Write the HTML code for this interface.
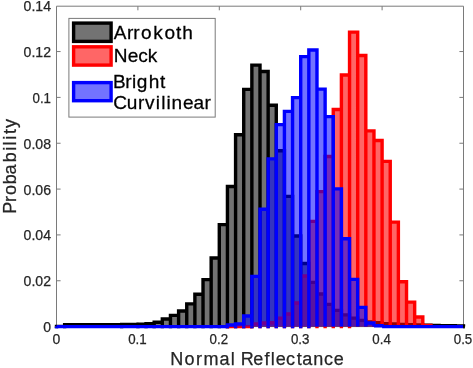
<!DOCTYPE html>
<html><head><meta charset="utf-8"><style>
html,body{margin:0;padding:0;background:#fff;}
body{width:473px;height:368px;overflow:hidden;}
svg{display:block;will-change:transform;font-family:"Liberation Sans",sans-serif;}
text{stroke-width:0.25px;}
.ls{letter-spacing:0.5px;}

</style></head><body>
<svg width="473" height="368" viewBox="0 0 473 368">
<rect width="473" height="368" fill="#fff"/>
<rect x="56.50" y="6.20" width="407.00" height="320.40" fill="#fff" stroke="none"/>
<path d="M56.50,6.20H463.50V326.60H56.50Z" fill="none" stroke="#7a7a7a" stroke-width="1"/>
<path d="M137.90,326.60v-4.1M137.90,6.20v4.1M219.30,326.60v-4.1M219.30,6.20v4.1M300.70,326.60v-4.1M300.70,6.20v4.1M382.10,326.60v-4.1M382.10,6.20v4.1M56.50,280.76h4.1M463.50,280.76h-4.1M56.50,234.92h4.1M463.50,234.92h-4.1M56.50,189.08h4.1M463.50,189.08h-4.1M56.50,143.24h4.1M463.50,143.24h-4.1M56.50,97.40h4.1M463.50,97.40h-4.1M56.50,51.56h4.1M463.50,51.56h-4.1" fill="none" stroke="#7a7a7a" stroke-width="1"/>
<path d="M56.50,326.60V326.37H64.64V326.60ZM64.64,326.60V324.77H72.78V326.60ZM72.78,326.60V324.77H80.92V326.60ZM80.92,326.60V324.77H89.06V326.60ZM89.06,326.60V324.77H97.20V326.60ZM97.20,326.60V324.77H105.34V326.60ZM105.34,326.60V324.77H113.48V326.60ZM113.48,326.60V324.77H121.62V326.60ZM121.62,326.60V324.54H129.76V326.60ZM129.76,326.60V324.54H137.90V326.60ZM137.90,326.60V324.08H146.04V326.60ZM146.04,326.60V323.62H154.18V326.60ZM154.18,326.60V322.25H162.32V326.60ZM162.32,326.60V319.04H170.46V326.60ZM170.46,326.60V315.37H178.60V326.60ZM178.60,326.60V311.01H186.74V326.60ZM186.74,326.60V303.91H194.88V326.60ZM194.88,326.60V294.28H203.02V326.60ZM203.02,326.60V279.61H211.16V326.60ZM211.16,326.60V258.07H219.30V326.60ZM219.30,326.60V224.61H227.44V326.60ZM227.44,326.60V186.56H235.58V326.60ZM235.58,326.60V134.76H243.72V326.60ZM243.72,326.60V89.38H251.86V326.60ZM251.86,326.60V65.08H260.00V326.60ZM260.00,326.60V71.50H268.14V326.60ZM268.14,326.60V105.19H276.28V326.60ZM276.28,326.60V150.80H284.42V326.60ZM284.42,326.60V196.41H292.56V326.60ZM292.56,326.60V236.07H300.70V326.60ZM300.70,326.60V263.57H308.84V326.60ZM308.84,326.60V282.36H316.98V326.60ZM316.98,326.60V294.05H325.12V326.60ZM325.12,326.60V304.37H333.26V326.60ZM333.26,326.60V310.33H341.40V326.60ZM341.40,326.60V314.91H349.54V326.60ZM349.54,326.60V318.12H357.68V326.60ZM357.68,326.60V320.41H365.82V326.60ZM365.82,326.60V322.02H373.96V326.60ZM373.96,326.60V322.70H382.10V326.60ZM382.10,326.60V323.62H390.24V326.60ZM390.24,326.60V323.85H398.38V326.60ZM398.38,326.60V324.54H406.52V326.60ZM406.52,326.60V324.77H414.66V326.60ZM414.66,326.60V325.00H422.80V326.60ZM422.80,326.60V325.22H430.94V326.60ZM430.94,326.60V325.45H439.08V326.60ZM439.08,326.60V325.68H447.22V326.60ZM447.22,326.60V325.68H455.36V326.60ZM455.36,326.60V325.91H463.50V326.60Z" fill="#000" fill-opacity="0.55" stroke="none"/>
<path d="M56.50,326.60V326.37H64.64V326.60M64.64,326.60V324.77H72.78V326.60M72.78,326.60V324.77H80.92V326.60M80.92,326.60V324.77H89.06V326.60M89.06,326.60V324.77H97.20V326.60M97.20,326.60V324.77H105.34V326.60M105.34,326.60V324.77H113.48V326.60M113.48,326.60V324.77H121.62V326.60M121.62,326.60V324.54H129.76V326.60M129.76,326.60V324.54H137.90V326.60M137.90,326.60V324.08H146.04V326.60M146.04,326.60V323.62H154.18V326.60M154.18,326.60V322.25H162.32V326.60M162.32,326.60V319.04H170.46V326.60M170.46,326.60V315.37H178.60V326.60M178.60,326.60V311.01H186.74V326.60M186.74,326.60V303.91H194.88V326.60M194.88,326.60V294.28H203.02V326.60M203.02,326.60V279.61H211.16V326.60M211.16,326.60V258.07H219.30V326.60M219.30,326.60V224.61H227.44V326.60M227.44,326.60V186.56H235.58V326.60M235.58,326.60V134.76H243.72V326.60M243.72,326.60V89.38H251.86V326.60M251.86,326.60V65.08H260.00V326.60M260.00,326.60V71.50H268.14V326.60M268.14,326.60V105.19H276.28V326.60M276.28,326.60V150.80H284.42V326.60M284.42,326.60V196.41H292.56V326.60M292.56,326.60V236.07H300.70V326.60M300.70,326.60V263.57H308.84V326.60M308.84,326.60V282.36H316.98V326.60M316.98,326.60V294.05H325.12V326.60M325.12,326.60V304.37H333.26V326.60M333.26,326.60V310.33H341.40V326.60M341.40,326.60V314.91H349.54V326.60M349.54,326.60V318.12H357.68V326.60M357.68,326.60V320.41H365.82V326.60M365.82,326.60V322.02H373.96V326.60M373.96,326.60V322.70H382.10V326.60M382.10,326.60V323.62H390.24V326.60M390.24,326.60V323.85H398.38V326.60M398.38,326.60V324.54H406.52V326.60M406.52,326.60V324.77H414.66V326.60M414.66,326.60V325.00H422.80V326.60M422.80,326.60V325.22H430.94V326.60M430.94,326.60V325.45H439.08V326.60M439.08,326.60V325.68H447.22V326.60M447.22,326.60V325.68H455.36V326.60M455.36,326.60V325.91H463.50V326.60" fill="none" stroke="#000" stroke-width="3.4" stroke-linejoin="miter" stroke-linecap="butt"/>
<path d="M54.80,326.60h3.4v1.7h-3.4ZM62.94,326.60h3.4v1.7h-3.4ZM119.92,326.60h3.4v1.7h-3.4ZM136.20,326.60h3.4v1.7h-3.4ZM144.34,326.60h3.4v1.7h-3.4ZM152.48,326.60h3.4v1.7h-3.4ZM160.62,326.60h3.4v1.7h-3.4ZM168.76,326.60h3.4v1.7h-3.4ZM176.90,326.60h3.4v1.7h-3.4ZM185.04,326.60h3.4v1.7h-3.4ZM193.18,326.60h3.4v1.7h-3.4ZM201.32,326.60h3.4v1.7h-3.4ZM209.46,326.60h3.4v1.7h-3.4ZM217.60,326.60h3.4v1.7h-3.4ZM225.74,326.60h3.4v1.7h-3.4ZM233.88,326.60h3.4v1.7h-3.4ZM242.02,326.60h3.4v1.7h-3.4ZM250.16,326.60h3.4v1.7h-3.4Z" fill="#000" stroke="none"/>
<path d="M251.86,326.60V323.85H260.00V326.60ZM260.00,326.60V322.93H268.14V326.60ZM268.14,326.60V322.70H276.28V326.60ZM276.28,326.60V318.12H284.42V326.60ZM284.42,326.60V313.99H292.56V326.60ZM292.56,326.60V302.99H300.70V326.60ZM300.70,326.60V275.95H308.84V326.60ZM308.84,326.60V221.40H316.98V326.60ZM316.98,326.60V191.60H325.12V326.60ZM325.12,326.60V156.53H333.26V326.60ZM333.26,326.60V109.55H341.40V326.60ZM341.40,326.60V74.94H349.54V326.60ZM349.54,326.60V32.08H357.68V326.60ZM357.68,326.60V55.46H365.82V326.60ZM365.82,326.60V130.86H373.96V326.60ZM373.96,326.60V140.49H382.10V326.60ZM382.10,326.60V161.35H390.24V326.60ZM390.24,326.60V222.08H398.38V326.60ZM398.38,326.60V281.68H406.52V326.60ZM406.52,326.60V302.08H414.66V326.60ZM414.66,326.60V316.97H422.80V326.60ZM422.80,326.60V325.45H430.94V326.60Z" fill="#f00" fill-opacity="0.6" stroke="none"/>
<path d="M227.44,326.60V326.60H235.58V326.60M235.58,326.60V326.60H243.72V326.60M243.72,326.60V326.60H251.86V326.60M251.86,326.60V323.85H260.00V326.60M260.00,326.60V322.93H268.14V326.60M268.14,326.60V322.70H276.28V326.60M276.28,326.60V318.12H284.42V326.60M284.42,326.60V313.99H292.56V326.60M292.56,326.60V302.99H300.70V326.60M300.70,326.60V275.95H308.84V326.60M308.84,326.60V221.40H316.98V326.60M316.98,326.60V191.60H325.12V326.60M325.12,326.60V156.53H333.26V326.60M333.26,326.60V109.55H341.40V326.60M341.40,326.60V74.94H349.54V326.60M349.54,326.60V32.08H357.68V326.60M357.68,326.60V55.46H365.82V326.60M365.82,326.60V130.86H373.96V326.60M373.96,326.60V140.49H382.10V326.60M382.10,326.60V161.35H390.24V326.60M390.24,326.60V222.08H398.38V326.60M398.38,326.60V281.68H406.52V326.60M406.52,326.60V302.08H414.66V326.60M414.66,326.60V316.97H422.80V326.60M422.80,326.60V325.45H430.94V326.60" fill="none" stroke="#f00" stroke-width="3.4" stroke-linejoin="miter" stroke-linecap="butt"/>
<path d="M225.74,326.60h3.4v1.7h-3.4ZM250.16,326.60h3.4v1.7h-3.4ZM258.30,326.60h3.4v1.7h-3.4ZM266.44,326.60h3.4v1.7h-3.4ZM274.58,326.60h3.4v1.7h-3.4ZM282.72,326.60h3.4v1.7h-3.4ZM290.86,326.60h3.4v1.7h-3.4ZM299.00,326.60h3.4v1.7h-3.4ZM307.14,326.60h3.4v1.7h-3.4ZM315.28,326.60h3.4v1.7h-3.4ZM323.42,326.60h3.4v1.7h-3.4ZM331.56,326.60h3.4v1.7h-3.4ZM339.70,326.60h3.4v1.7h-3.4ZM347.84,326.60h3.4v1.7h-3.4Z" fill="#f00" stroke="none"/>
<path d="M227.44,326.60V325.00H235.58V326.60ZM235.58,326.60V323.85H243.72V326.60ZM243.72,326.60V316.06H251.86V326.60ZM251.86,326.60V276.41H260.00V326.60ZM260.00,326.60V209.25H268.14V326.60ZM268.14,326.60V158.83H276.28V326.60ZM276.28,326.60V124.67H284.42V326.60ZM284.42,326.60V111.38H292.56V326.60ZM292.56,326.60V97.63H300.70V326.60ZM300.70,326.60V56.60H308.84V326.60ZM308.84,326.60V49.96H316.98V326.60ZM316.98,326.60V89.15H325.12V326.60ZM325.12,326.60V116.65H333.26V326.60ZM333.26,326.60V188.85H341.40V326.60ZM341.40,326.60V238.82H349.54V326.60ZM349.54,326.60V279.38H357.68V326.60ZM357.68,326.60V307.35H365.82V326.60ZM365.82,326.60V322.93H373.96V326.60ZM373.96,326.60V325.68H382.10V326.60Z" fill="#00f" fill-opacity="0.55" stroke="none"/>
<path d="M56.50,326.60V326.60H64.64V326.60M64.64,326.60V326.60H72.78V326.60M72.78,326.60V326.60H80.92V326.60M80.92,326.60V326.60H89.06V326.60M89.06,326.60V326.60H97.20V326.60M97.20,326.60V326.60H105.34V326.60M105.34,326.60V326.60H113.48V326.60M113.48,326.60V326.60H121.62V326.60M121.62,326.60V326.60H129.76V326.60M129.76,326.60V326.60H137.90V326.60M137.90,326.60V326.60H146.04V326.60M146.04,326.60V326.60H154.18V326.60M154.18,326.60V326.60H162.32V326.60M162.32,326.60V326.60H170.46V326.60M170.46,326.60V326.60H178.60V326.60M178.60,326.60V326.60H186.74V326.60M186.74,326.60V326.60H194.88V326.60M194.88,326.60V326.60H203.02V326.60M203.02,326.60V326.60H211.16V326.60M211.16,326.60V326.60H219.30V326.60M219.30,326.60V326.60H227.44V326.60M227.44,326.60V325.00H235.58V326.60M235.58,326.60V323.85H243.72V326.60M243.72,326.60V316.06H251.86V326.60M251.86,326.60V276.41H260.00V326.60M260.00,326.60V209.25H268.14V326.60M268.14,326.60V158.83H276.28V326.60M276.28,326.60V124.67H284.42V326.60M284.42,326.60V111.38H292.56V326.60M292.56,326.60V97.63H300.70V326.60M300.70,326.60V56.60H308.84V326.60M308.84,326.60V49.96H316.98V326.60M316.98,326.60V89.15H325.12V326.60M325.12,326.60V116.65H333.26V326.60M333.26,326.60V188.85H341.40V326.60M341.40,326.60V238.82H349.54V326.60M349.54,326.60V279.38H357.68V326.60M357.68,326.60V307.35H365.82V326.60M365.82,326.60V322.93H373.96V326.60M373.96,326.60V325.68H382.10V326.60M382.10,326.60V326.60H390.24V326.60M390.24,326.60V326.60H398.38V326.60M398.38,326.60V326.60H406.52V326.60M406.52,326.60V326.60H414.66V326.60M414.66,326.60V326.60H422.80V326.60M422.80,326.60V326.60H430.94V326.60M430.94,326.60V326.60H439.08V326.60M439.08,326.60V326.60H447.22V326.60M447.22,326.60V326.60H455.36V326.60M455.36,326.60V326.60H463.50V326.60" fill="none" stroke="#00f" stroke-width="3.4" stroke-linejoin="miter" stroke-linecap="butt"/>
<path d="M54.80,326.60h3.4v1.7h-3.4ZM225.74,326.60h3.4v1.7h-3.4ZM233.88,326.60h3.4v1.7h-3.4ZM242.02,326.60h3.4v1.7h-3.4ZM250.16,326.60h3.4v1.7h-3.4ZM258.30,326.60h3.4v1.7h-3.4ZM266.44,326.60h3.4v1.7h-3.4ZM274.58,326.60h3.4v1.7h-3.4ZM282.72,326.60h3.4v1.7h-3.4ZM290.86,326.60h3.4v1.7h-3.4ZM299.00,326.60h3.4v1.7h-3.4ZM307.14,326.60h3.4v1.7h-3.4Z" fill="#00f" stroke="none"/>
<rect x="463.1" y="324.8" width="1.8" height="3.6" fill="#000"/>
<g font-size="14" fill="#262626" stroke="#262626" style="stroke-width:0.12px"><text x="56.50" y="344.1" text-anchor="middle">0</text><text x="128.15" y="344.1" textLength="18.5" lengthAdjust="spacingAndGlyphs">0.1</text><text x="209.55" y="344.1" textLength="18.5" lengthAdjust="spacingAndGlyphs">0.2</text><text x="290.95" y="344.1" textLength="18.5" lengthAdjust="spacingAndGlyphs">0.3</text><text x="372.35" y="344.1" textLength="18.5" lengthAdjust="spacingAndGlyphs">0.4</text><text x="453.75" y="344.1" textLength="18.5" lengthAdjust="spacingAndGlyphs">0.5</text><text x="51.0" y="332.05" text-anchor="end">0</text><text x="23.60" y="286.21" textLength="27.4" lengthAdjust="spacingAndGlyphs">0.02</text><text x="23.60" y="240.37" textLength="27.4" lengthAdjust="spacingAndGlyphs">0.04</text><text x="23.60" y="194.53" textLength="27.4" lengthAdjust="spacingAndGlyphs">0.06</text><text x="23.60" y="148.69" textLength="27.4" lengthAdjust="spacingAndGlyphs">0.08</text><text x="32.50" y="102.85" textLength="18.5" lengthAdjust="spacingAndGlyphs">0.1</text><text x="23.60" y="57.01" textLength="27.4" lengthAdjust="spacingAndGlyphs">0.12</text><text x="23.60" y="11.17" textLength="27.4" lengthAdjust="spacingAndGlyphs">0.14</text></g>
<text x="170.25 184.54 196.05 203.4 219.56 230.8 234.8 240.83 253.26 264.61 270.75 275.71 286.05 296.68 302.21 313.28 324.05 333.71" y="364.6" font-size="18" fill="#262626" stroke="#262626">Normal Reflectance</text>
<text transform="translate(16.4,214) rotate(-90)" font-size="18" fill="#262626" stroke="#262626" x="0.33 11.9 19.0 29.75 39.6 51.65 63.3 68.55 74.2 80.1 85.9" y="0">Probability</text>
<rect x="68.9" y="18.4" width="146.3" height="98.7" fill="#fff" stroke="#7a7a7a" stroke-width="1"/>
<rect x="73.6" y="23.1" width="37.5" height="18.299999999999997" fill="#fff" stroke="none"/><rect x="73.6" y="23.1" width="37.5" height="18.299999999999997" fill="#000" fill-opacity="0.55" stroke="#000" stroke-width="3.4"/>
<rect x="73.6" y="46.8" width="37.5" height="18.299999999999997" fill="#fff" stroke="none"/><rect x="73.6" y="46.8" width="37.5" height="18.299999999999997" fill="#f00" fill-opacity="0.6" stroke="#f00" stroke-width="3.4"/>
<rect x="73.6" y="82.6" width="37.5" height="18.10000000000001" fill="#fff" stroke="none"/><rect x="73.6" y="82.6" width="37.5" height="18.10000000000001" fill="#00f" fill-opacity="0.55" stroke="#00f" stroke-width="3.4"/>
<g font-size="18" fill="#000" stroke="#000" transform="scale(1.06,1)"><text x="107.25 119.76 125.75 133.01 144.69 155.14 166.11 171.94" y="39">Arrokoth</text><text x="107.27 120.53 130.45 139.36" y="61.7">Neck</text><text x="106.66 118.11 124.61 129.06 140.24 151.06" y="87.6">Bright</text><text x="106.74 119.63 130.14 136.82 147.01 152.19 157.01 161.82 172.61 182.44 193.02" y="109.5">Curvilinear</text></g>
</svg>
</body></html>
